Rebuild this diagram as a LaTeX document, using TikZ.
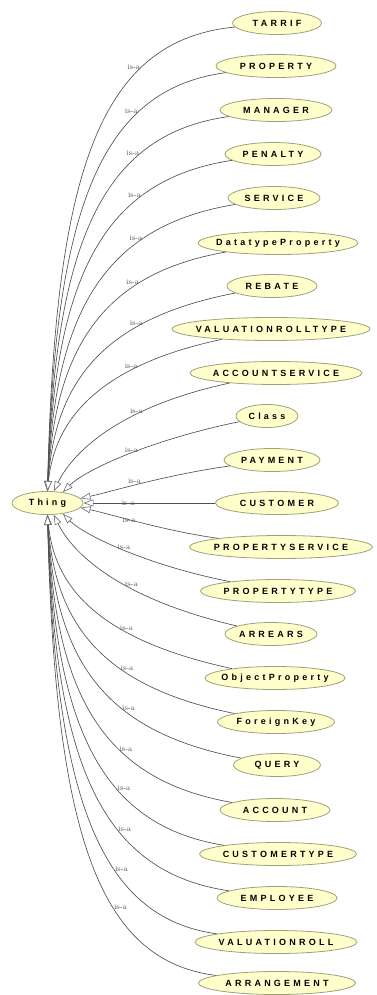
\documentclass[tikz,border=0pt]{standalone}
\usepackage{fontspec}
\usetikzlibrary{shapes.geometric,arrows.meta}

\newfontfamily\clsfont[LetterSpace=36]{Liberation Sans}
\newcommand\clname[1]{\makebox[0pt]{#1}}

\definecolor{clsfill}{RGB}{255,255,204}
\definecolor{clsline}{RGB}{160,160,120}
\definecolor{edgegray}{RGB}{80,80,80}
\definecolor{tipgray}{RGB}{115,115,115}
\definecolor{isagray}{RGB}{85,85,85}

\begin{document}
\begin{tikzpicture}[x=1pt,y=-1pt,
    cls/.style={ellipse, draw=clsline, fill=clsfill, line width=0.8pt, inner sep=0pt,
      minimum height=23pt, font=\clsfont\bfseries\fontsize{9}{9}\selectfont},
    isa/.style={inner sep=1pt, text=isagray, font=\fontsize{8}{8}\selectfont},
    sub/.style={draw=edgegray, line width=0.65pt,
      -{Triangle[length=10pt, width=7pt, color=tipgray, fill=white]}}]
      \useasboundingbox (0,0) rectangle (376,995);

      % root
      \node[cls, minimum width=71] (thing) at (47.5,503) {\clname{Thing}};

      % subclasses
      \node[cls, minimum width=89]  (tarrif)      at (277,23)  {\clname{TARRIF}};
      \node[cls, minimum width=120] (property)    at (276,66)  {\clname{PROPERTY}};
      \node[cls, minimum width=112] (manager)     at (276,110) {\clname{MANAGER}};
      \node[cls, minimum width=96]  (penalty)     at (273,154) {\clname{PENALTY}};
      \node[cls, minimum width=92]  (service)     at (274,198) {\clname{SERVICE}};
      \node[cls, minimum width=160] (datatype)    at (278,243) {\clname{DatatypeProperty}};
      \node[cls, minimum width=90]  (rebate)      at (272,286) {\clname{REBATE}};
      \node[cls, minimum width=198] (valrolltype) at (271,329) {\clname{VALUATIONROLLTYPE}};
      \node[cls, minimum width=172] (acctservice) at (276,373) {\clname{ACCOUNTSERVICE}};
      \node[cls, minimum width=62]  (class)       at (267,416) {\clname{Class}};
      \node[cls, minimum width=96]  (payment)     at (272,460) {\clname{PAYMENT}};
      \node[cls, minimum width=123] (customer)    at (277,503) {\clname{CUSTOMER}};
      \node[cls, minimum width=183] (propservice) at (281,547) {\clname{PROPERTYSERVICE}};
      \node[cls, minimum width=155] (proptype)    at (278,591) {\clname{PROPERTYTYPE}};
      \node[cls, minimum width=92]  (arrears)     at (271,634) {\clname{ARREARS}};
      \node[cls, minimum width=140] (objprop)     at (275,678) {\clname{ObjectProperty}};
      \node[cls, minimum width=117] (foreignkey)  at (276,722) {\clname{ForeignKey}};
      \node[cls, minimum width=87]  (query)       at (277,765) {\clname{QUERY}};
      \node[cls, minimum width=110] (account)     at (275,810) {\clname{ACCOUNT}};
      \node[cls, minimum width=157] (custtype)    at (278,854) {\clname{CUSTOMERTYPE}};
      \node[cls, minimum width=120] (employee)    at (277,898) {\clname{EMPLOYEE}};
      \node[cls, minimum width=162] (valroll)     at (276,942) {\clname{VALUATIONROLL}};
      \node[cls, minimum width=157] (arrangement) at (277,983) {\clname{ARRANGEMENT}};

      % is-a edges, upper half
      \draw[sub] (tarrif)      .. controls (100,40)  and (55,170) .. node[isa, pos=.28, anchor=east] {is-a} (thing.north);
      \draw[sub] (property)    .. controls (102,89)  and (55,205) .. node[isa, pos=.28, anchor=east] {is-a} (thing.north);
      \draw[sub] (manager)     .. controls (103,134) and (55,240) .. node[isa, pos=.28, anchor=east] {is-a} (thing.north);
      \draw[sub] (penalty)     .. controls (104,180) and (55,274) .. node[isa, pos=.28, anchor=east] {is-a} (thing.north);
      \draw[sub] (service)     .. controls (105,226) and (55,310) .. node[isa, pos=.28, anchor=east] {is-a} (thing.north);
      \draw[sub] (datatype)    .. controls (105,273) and (55,345) .. node[isa, pos=.28, anchor=east] {is-a} (thing.north);
      \draw[sub] (rebate)      .. controls (105,318) and (55,380) .. node[isa, pos=.28, anchor=east] {is-a} (thing.north);
      \draw[sub] (valrolltype) .. controls (105,364) and (55,415) .. node[isa, pos=.28, anchor=east] {is-a} (thing.north);
      \draw[sub] (acctservice) .. controls (105,410) and (68,462) .. node[isa, pos=.28, anchor=east] {is-a} (thing.62);
      \draw[sub] (class)       .. controls (150,440) and (85,470) .. node[isa, pos=.43, anchor=east] {is-a} (thing.35);
      \draw[sub] (payment)     .. controls (165,475) and (110,492) .. node[isa, pos=.55, anchor=south] {is-a} (thing.8);

      \draw[sub] (customer) -- node[isa, pos=.66] {is-a} (thing);

      % is-a edges, lower half
      \draw[sub] (propservice) .. controls (165,531) and (110,514) .. node[isa, pos=.58] {is-a} (thing.-8);
      \draw[sub] (proptype)    .. controls (150,566) and (85,536) .. node[isa, pos=.55, anchor=west] {is-a} (thing.-35);
      \draw[sub] (arrears)     .. controls (105,595) and (68,544) .. node[isa, pos=.38, anchor=west] {is-a} (thing.-62);
      \draw[sub] (objprop)     .. controls (105,641) and (55,592) .. node[isa, pos=.38, anchor=west] {is-a} (thing.south);
      \draw[sub] (foreignkey)  .. controls (105,687) and (55,627) .. node[isa, pos=.38, anchor=west] {is-a} (thing.south);
      \draw[sub] (query)       .. controls (105,732) and (55,662) .. node[isa, pos=.38, anchor=west] {is-a} (thing.south);
      \draw[sub] (account)     .. controls (104,780) and (55,697) .. node[isa, pos=.38, anchor=west] {is-a} (thing.south);
      \draw[sub] (custtype)    .. controls (104,826) and (55,732) .. node[isa, pos=.38, anchor=west] {is-a} (thing.south);
      \draw[sub] (employee)    .. controls (103,872) and (55,768) .. node[isa, pos=.38, anchor=west] {is-a} (thing.south);
      \draw[sub] (valroll)     .. controls (102,918) and (55,803) .. node[isa, pos=.38, anchor=west] {is-a} (thing.south);
      \draw[sub] (arrangement) .. controls (100,961) and (55,838) .. node[isa, pos=.38, anchor=west] {is-a} (thing.south);

    \end{tikzpicture}
\end{document}
